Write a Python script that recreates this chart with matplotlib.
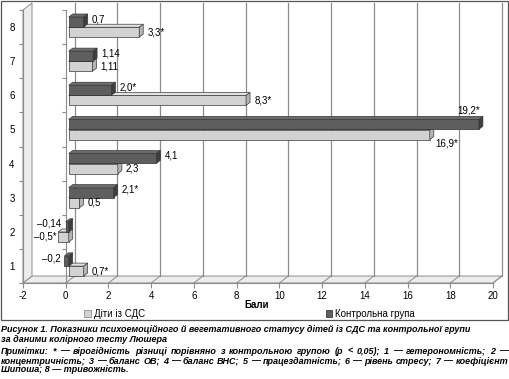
import matplotlib
matplotlib.use('Agg')
import matplotlib.pyplot as plt
from matplotlib.patches import Polygon, Rectangle, Patch
import numpy as np

# categories (1..8) and values
cats = np.arange(1, 9)
sds = [0.7, -0.5, 0.5, 2.3, 16.9, 8.3, 1.11, 3.3]          # Діти із СДС
ctrl = [-0.2, -0.14, 2.1, 4.1, 19.2, 2.0, 1.14, 0.7]        # Контрольна група
sds_labels = ['0,7*', '–0,5*', '0,5', '2,3', '16,9*', '8,3*', '1,11', '3,3*']
ctrl_labels = ['–0,2', '–0,14', '2,1*', '4,1', '19,2*', '2,0*', '1,14', '0,7']
xticks = list(range(-2, 21, 2))

caption = [
    'Рисунок 1. Показники психоемоційного й вегетативного статусу дітей із СДС та контрольної групи',
    'за даними колірного тесту Люшера',
    'Примітки: * — вірогідність різниці порівняно з контрольною групою (р < 0,05); 1 — гетерономність; 2 —',
    'концентричність; 3 — баланс ОВ; 4 — баланс ВНС; 5 — працездатність; 6 — рівень стресу; 7 — коефіцієнт',
    'Шипоша; 8 — тривожність.',
]

plt.rcParams['font.family'] = ['Liberation Sans', 'DejaVu Sans']

W, H = 510, 379
fig = plt.figure(figsize=(W / 100, H / 100), dpi=100, facecolor='white')


def fx(px):
    return px / W


def fy(py):
    return 1 - py / H


ax = fig.add_axes([fx(23), fy(283), 470 / W, 273 / H])
xmin, xmax, ymin, ymax = -2, 20, 0.5, 8.5
ax.set_xlim(xmin, xmax)
ax.set_ylim(ymin, ymax)
ppx = 470 / (xmax - xmin)
ppy = 273 / (ymax - ymin)


def dx(p):
    return p / ppx


def dy(p):
    return p / ppy


# 3d box: floor, left wall, back gridlines
bx, by = dx(9), dy(7)
wall_fc, wall_ec = '#ececec', '#8c8c8c'
ax.add_patch(Polygon([(xmin, ymin), (xmax, ymin), (xmax + bx, ymin + by), (xmin + bx, ymin + by)],
                     closed=True, fc=wall_fc, ec=wall_ec, lw=0.7, clip_on=False, zorder=1))
ax.add_patch(Polygon([(xmin, ymin), (xmin + bx, ymin + by), (xmin + bx, ymax + by), (xmin, ymax)],
                     closed=True, fc=wall_fc, ec=wall_ec, lw=0.7, clip_on=False, zorder=1))
for v in xticks[1:]:
    ax.plot([v + bx, v + bx], [ymin + by, ymax + by], color='#8c8c8c', lw=0.9, clip_on=False, zorder=1.5)
    ax.plot([v, v + bx], [ymin, ymin + by], color='#8c8c8c', lw=0.7, clip_on=False, zorder=1.5)

# category axis drawn at x = 0
bounds = np.arange(ymin, ymax + 0.01, 1)
ax.plot([0, 0], [ymin, ymax], color='#8c8c8c', lw=0.8, zorder=2)
ax.hlines(bounds, -dx(4), 0, color='#8c8c8c', lw=0.8, zorder=2)

# bars with a small depth
h = 0.29
shift = dx(3)
bdx, bdy = dx(4), dy(3)


def faces(y0, v, top_c, side_c, z):
    x0, x1 = shift + min(0, v), shift + max(0, v)
    y1 = y0 + h
    ax.add_patch(Polygon([(x0, y1), (x1, y1), (x1 + bdx, y1 + bdy), (x0 + bdx, y1 + bdy)],
                         closed=True, fc=top_c, ec='#3a3a3a', lw=0.5, zorder=z))
    ax.add_patch(Polygon([(x1, y0), (x1 + bdx, y0 + bdy), (x1 + bdx, y1 + bdy), (x1, y1)],
                         closed=True, fc=side_c, ec='#3a3a3a', lw=0.5, zorder=z))


sds_y = cats - 0.005 - h
ctrl_y = cats + 0.005
ax.barh(sds_y, sds, height=h, left=shift, align='edge', color='#d2d2d2', edgecolor='#3a3a3a', lw=0.5, zorder=3)
for y0, v in zip(sds_y, sds):
    faces(y0, v, '#e2e2e2', '#b4b4b4', 3)
ax.barh(ctrl_y, ctrl, height=h, left=shift, align='edge', color='#5e5e5e', edgecolor='#2e2e2e', lw=0.5, zorder=4)
for y0, v in zip(ctrl_y, ctrl):
    faces(y0, v, '#6c6c6c', '#3e3e3e', 4)

# value labels
lab_kw = dict(fontsize=7, textcoords='offset points', zorder=6)
for c, y0, v, t in zip(cats, sds_y, sds, sds_labels):
    if c == 5:
        ax.annotate(t, (shift + v + bdx, y0), xytext=(1, 1), ha='left', va='top', **lab_kw)
    elif v >= 0:
        ax.annotate(t, (shift + v + bdx, y0 + h / 2), xytext=(3, 0), ha='left', va='center', **lab_kw)
    else:
        ax.annotate(t, (shift + v, y0 + h / 2), xytext=(-1, 0), ha='right', va='center', **lab_kw)
for c, y0, v, t in zip(cats, ctrl_y, ctrl, ctrl_labels):
    if c == 5:
        ax.annotate(t, (shift + v + bdx, y0 + h), xytext=(-2, 3), ha='right', va='bottom', **lab_kw)
    elif v >= 0:
        ax.annotate(t, (shift + v + bdx, y0 + h / 2), xytext=(3, 2), ha='left', va='center', **lab_kw)
    else:
        ax.annotate(t, (shift + v, y0 + h / 2), xytext=(-3, 2), ha='right', va='center', **lab_kw)

# axes styling
for s in ['top', 'right']:
    ax.spines[s].set_visible(False)
for s in ['left', 'bottom']:
    ax.spines[s].set_color('#8c8c8c')
    ax.spines[s].set_linewidth(0.8)
    ax.spines[s].set_zorder(1.6)
ax.set_xticks(xticks)
ax.set_xticklabels([str(v) for v in xticks])
ax.set_yticks(cats)
ax.set_yticklabels([str(c) for c in cats])
ax.set_yticks(bounds, minor=True)
ax.tick_params(axis='x', labelsize=7, length=3.6, width=0.8, color='#8c8c8c', pad=2)
ax.tick_params(axis='y', which='major', labelsize=7, length=0, pad=6)
ax.tick_params(axis='y', which='minor', length=2.9, width=0.8, color='#8c8c8c')
ax.set_facecolor('none')

fig.text(fx(257), fy(305), 'Бали', fontsize=7, fontweight='bold', ha='center', va='center')

handles = [Patch(fc='#d2d2d2', ec='#8c8c8c', lw=0.6, label='Діти із СДС'),
           Patch(fc='#5e5e5e', ec='#3a3a3a', lw=0.6, label='Контрольна група')]
fig.legend(handles=handles, loc='center left', bbox_to_anchor=(fx(84), fy(314)), ncol=2, frameon=False,
           fontsize=7, handlelength=0.7, handleheight=0.7, handletextpad=0.3, columnspacing=18.6,
           borderpad=0, borderaxespad=0)

# chart area border
fig.add_artist(Rectangle((fx(1), fy(320)), 507 / W, 319 / H, transform=fig.transFigure,
                         fill=False, ec='#555555', lw=0.9))

# caption text: bold italic, lines 3-4 justified to the full width
cap_kw = dict(fontweight='bold', fontstyle='italic', va='center', ha='left')
r = fig.canvas.get_renderer()
t0 = fig.text(fx(1), fy(330), caption[0], fontsize=7, **cap_kw)
size = 7 * 472 / t0.get_window_extent(r).width
t0.set_fontsize(size)
fig.text(fx(1), fy(340), caption[1], fontsize=size, **cap_kw)


def justified(line, ypx, x0, x1):
    words = line.split(' ')
    ts = [fig.text(0, fy(ypx), w, fontsize=size, **cap_kw) for w in words]
    ws = [t.get_window_extent(r).width for t in ts]
    gap = (x1 - x0 - sum(ws)) / (len(words) - 1)
    x = x0
    for t, w in zip(ts, ws):
        t.set_x(fx(x))
        x += w + gap


justified(caption[2], 351, 1, 508)
justified(caption[3], 361, 1, 508)
fig.text(fx(1), fy(370), caption[4], fontsize=size, **cap_kw)

fig.savefig('out.png', dpi=100, facecolor='white')
